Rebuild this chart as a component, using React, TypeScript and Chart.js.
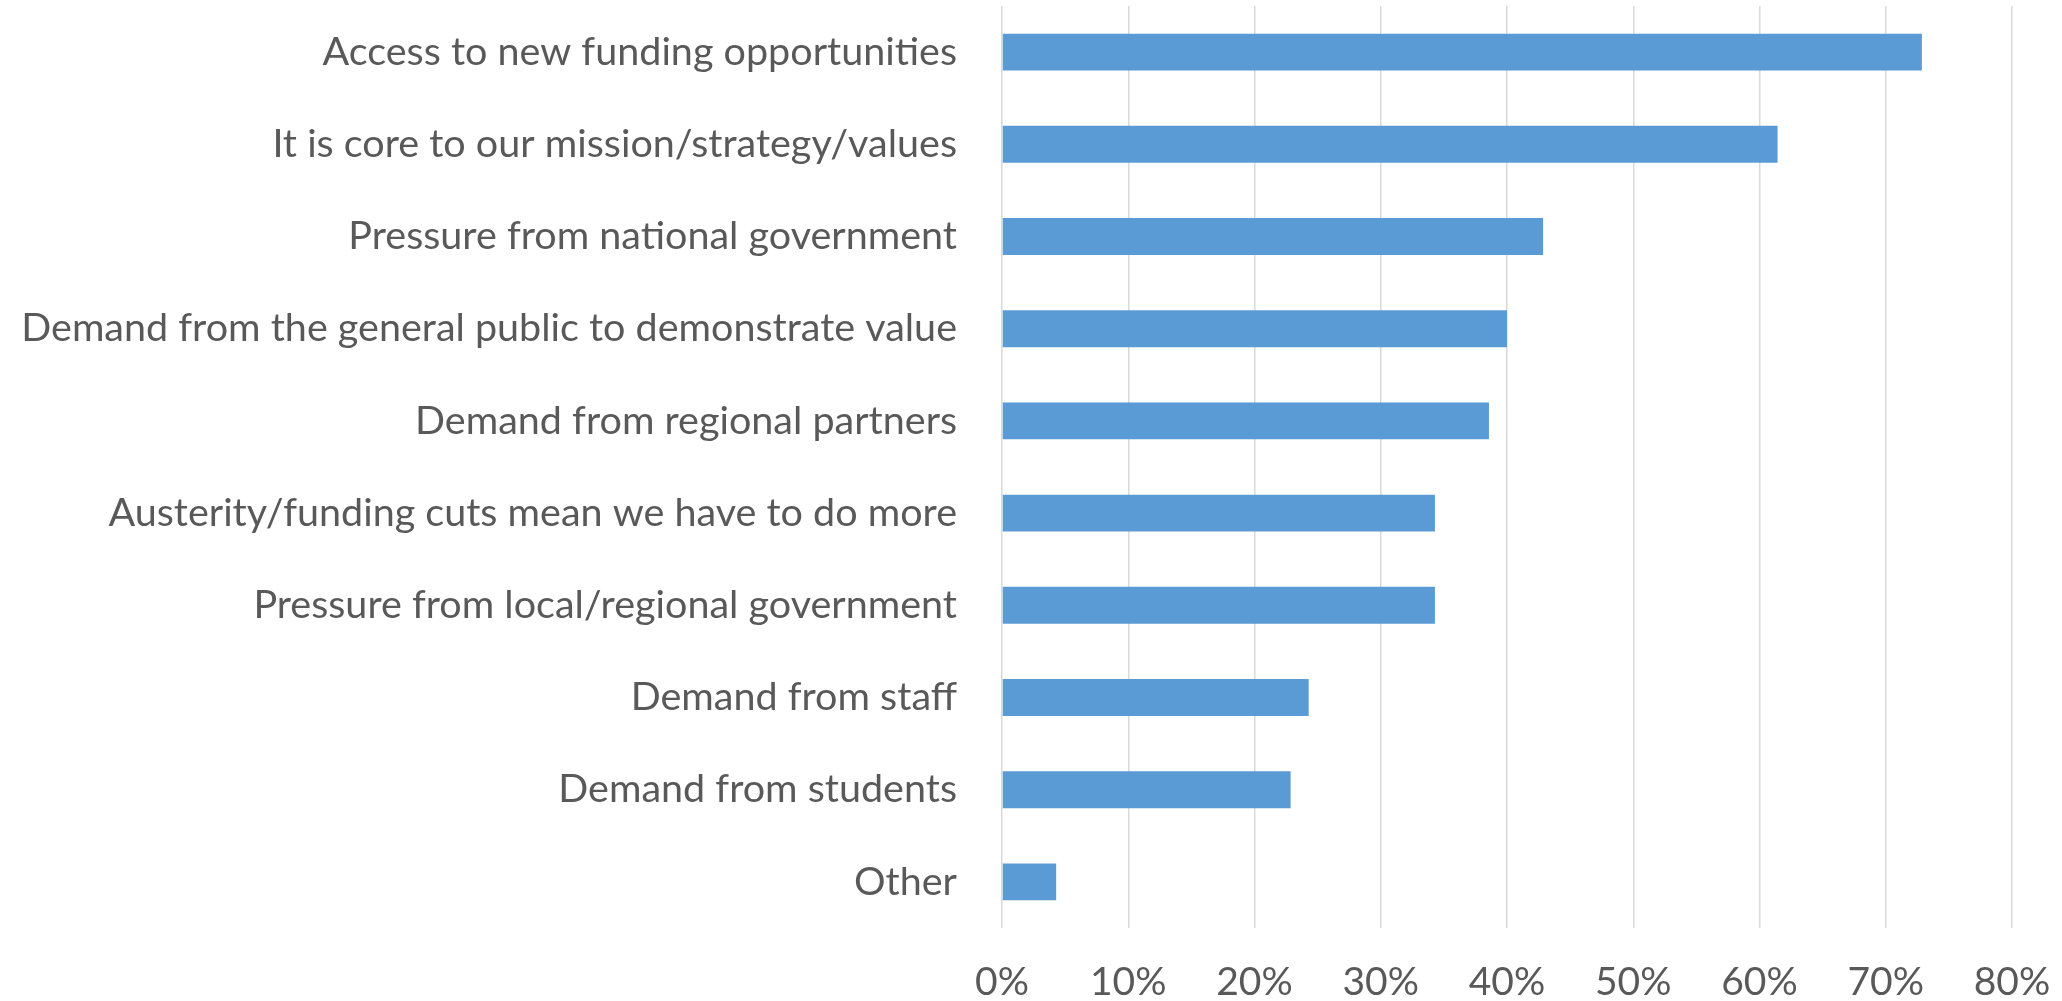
import React, { useEffect, useRef } from "react";
import { Chart, registerables } from "chart.js";

Chart.register(...registerables);

const categories = [
  "Access to new funding opportunities",
  "It is core to our mission/strategy/values",
  "Pressure from national government",
  "Demand from the general public to demonstrate value",
  "Demand from regional partners",
  "Austerity/funding cuts mean we have to do more",
  "Pressure from local/regional government",
  "Demand from staff",
  "Demand from students",
  "Other",
];

const shares = [72.86, 61.43, 42.86, 40.0, 38.57, 34.29, 34.29, 24.29, 22.86, 4.29];

const xMin = 0;
const xMax = 80;
const xStep = 10;

export default function App() {
  const ref = useRef<HTMLCanvasElement | null>(null);

  useEffect(() => {
    document.body.style.margin = "0";
    const canvas = ref.current;
    if (!canvas) return;
    const family = "Lato, 'Open Sans', sans-serif";
    const chart = new Chart(canvas, {
      type: "bar",
      data: {
        labels: categories,
        datasets: [
          {
            data: shares,
            backgroundColor: "#5b9bd5",
            borderWidth: 0,
            categoryPercentage: 1,
            barPercentage: 0.4,
          },
        ],
      },
      options: {
        indexAxis: "y",
        responsive: false,
        animation: false,
        maintainAspectRatio: false,
        layout: { padding: { top: 6, right: 50, bottom: 0, left: 0 } },
        plugins: { legend: { display: false }, tooltip: { enabled: false } },
        scales: {
          x: {
            min: xMin,
            max: xMax,
            ticks: {
              stepSize: xStep,
              color: "#595959",
              font: { family, size: 39 },
              padding: 31,
              callback: (v: any) => `${v}%`,
            },
            grid: { color: "#d9d9d9", lineWidth: 1.5, drawTicks: false },
            border: { display: false },
            afterFit: (scale: any) => {
              scale.height = 73;
              scale.paddingLeft = 0;
              scale.paddingRight = 0;
            },
          },
          y: {
            ticks: { color: "#595959", font: { family, size: 39.5 }, padding: 45 },
            grid: { display: false, drawTicks: false },
            border: { display: false },
            afterFit: (scale: any) => {
              scale.width = 1002;
              scale.paddingTop = 0;
              scale.paddingBottom = 0;
            },
          },
        },
      },
    });
    return () => chart.destroy();
  }, []);

  return (
    <div style={{ width: 2062, height: 1001, background: "#fff" }}>
      <canvas ref={ref} width={2062} height={1001} style={{ display: "block" }} />
    </div>
  );
}
